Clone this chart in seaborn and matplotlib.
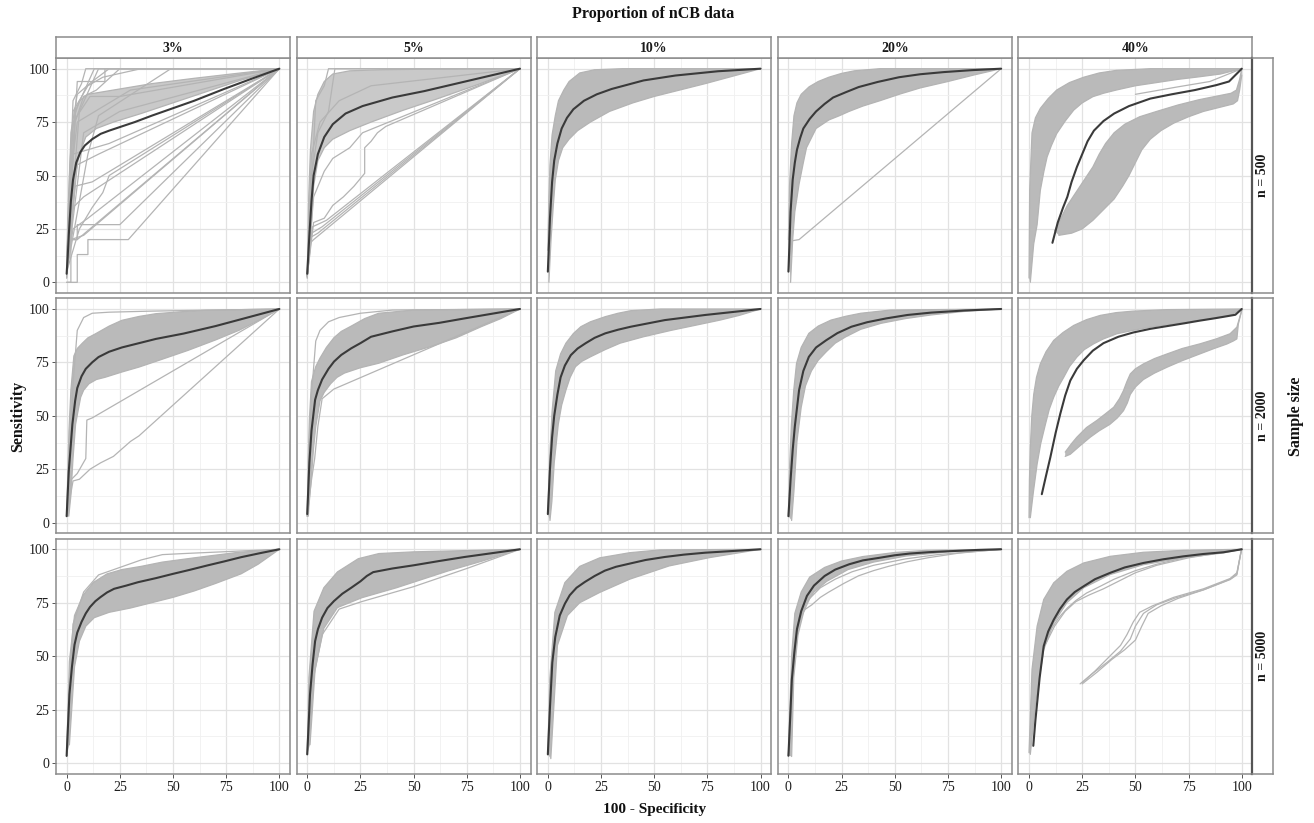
import matplotlib
matplotlib.use("Agg")
import matplotlib.pyplot as plt
import seaborn as sns
import pandas as pd

# ---------------- categories / labels ----------------
PROPORTIONS = ["3%", "5%", "10%", "20%", "40%"]
SAMPLE_SIZES = ["n = 500", "n = 2000", "n = 5000"]
AXIS_TICKS = [0, 25, 50, 75, 100]

# ---------------- n = 500 ----------------
MEAN_500_3 = [(0, 4), (0.5, 12), (1, 22), (2, 38), (3, 48), (4.5, 56), (6.5, 61), (8.5, 64), (12, 67), (16, 69.5),
              (20, 71), (26, 73), (32, 75), (40, 78), (50, 81.5), (60, 85), (74, 90.5), (87, 95.3), (100, 100)]
BAND_500_3_UP = [(0, 2), (0.5, 30), (1.5, 55), (2.5, 70), (4, 79), (6, 85), (10, 88), (16, 89), (25, 90.5), (40, 93),
                 (60, 95.5), (80, 97.8), (100, 100)]
BAND_500_3_LO = [(0, 2), (1, 12), (2, 20), (3, 35), (4, 50), (6, 60), (9, 68), (14, 72), (22, 75), (35, 79), (50, 84),
                 (65, 89), (80, 94), (100, 100)]
RUNS_500_3 = [
    [(0, 0), (5, 0), (5, 13), (10, 13), (10, 20), (29, 20), (100, 100)],
    [(0, 0), (2, 0), (2, 20), (5, 20), (5, 27), (19, 27), (25, 27), (100, 100)],
    [(0, 5), (1, 20), (5, 20), (100, 100)],
    [(0, 5), (2, 20), (8, 22), (100, 100)],
    [(0, 5), (3, 25), (10, 30), (100, 100)],
    [(0, 5), (3, 35), (8, 40), (100, 100)],
    [(0, 5), (4, 45), (12, 47), (100, 100)],
    [(0, 5), (5, 55), (15, 60), (100, 100)],
    [(0, 5), (3, 60), (20, 65), (100, 100)],
    [(0, 10), (5, 94), (18, 94), (18, 100), (100, 100)],
    [(0, 10), (3, 75), (11, 87), (25, 87), (100, 100)],
    [(0, 5), (4, 80), (13, 100), (100, 100)],
    [(0, 5), (6, 80), (15, 100), (100, 100)],
    [(0, 5), (8, 70), (25, 80), (100, 100)],
    [(0, 5), (10, 60), (15, 78), (49, 100), (100, 100)],
    [(0, 5), (2, 50), (5, 75), (30, 90), (100, 100)],
    [(0, 5), (6, 25), (12, 35), (17, 42), (20, 50), (100, 100)],
    [(0, 5), (3, 85), (7, 93), (9, 100), (100, 100)],
    [(0, 5), (2, 70), (5, 88), (12, 94), (20, 100), (100, 100)],
    [(0, 5), (4, 75), (8, 87), (14, 90), (25, 100), (100, 100)],
    [(0, 5), (3, 80), (10, 92), (17, 96), (35, 100), (100, 100)],
]

MEAN_500_5 = [(0, 4), (1, 22), (2, 38), (3, 50), (5, 60), (8, 68), (12, 74), (18, 79), (26, 82.5), (40, 86.5),
              (55, 89.5), (70, 93), (85, 96.5), (100, 100)]
BAND_500_5_UP = [(0, 2), (0.7, 40), (1.5, 62), (3, 80), (5, 88), (8, 94), (12, 97.5), (20, 99), (35, 99.5),
                 (60, 99.8), (100, 100)]
BAND_500_5_LO = [(0, 2), (1.5, 20), (3, 45), (5, 57), (8, 63), (12, 67), (20, 71), (30, 75), (45, 80.5), (60, 85.5),
                 (80, 92.5), (100, 100)]
RUNS_500_5 = [
    [(0, 3), (1, 18), (3, 20), (100, 100)],
    [(0, 3), (1.5, 21), (5, 23), (100, 100)],
    [(0, 3), (2, 23), (7, 26), (100, 100)],
    [(0, 3), (2.5, 26), (9, 29), (100, 100)],
    [(0, 3), (3, 28), (8, 30), (12, 36), (17, 40), (22, 45), (27, 51), (27, 63), (30, 66), (33, 70), (37, 73),
     (100, 100)],
    [(0, 3), (3, 40), (8, 52), (12, 58), (20, 63), (26, 70), (100, 100)],
    [(0, 3), (2, 50), (5, 70), (10, 80), (13, 100), (100, 100)],
    [(0, 3), (4, 85), (8, 92), (10, 100), (100, 100)],
    [(0, 3), (2, 60), (6, 75), (15, 85), (30, 92), (100, 100)],
]

MEAN_500_10 = [(0, 5), (1, 30), (2, 47), (3, 57), (4.5, 65), (6.5, 72), (9, 77), (12, 81), (17, 85), (23, 88),
               (30, 90.5), (45, 94.5), (60, 96.8), (80, 98.8), (100, 100)]
BAND_500_10_UP = [(0, 15), (0.5, 40), (1, 55), (2, 69), (3.5, 78), (5, 85), (7.5, 90), (10, 94), (15, 98), (22, 99.5),
                  (35, 100), (100, 100)]
BAND_500_10_LO = [(0.5, 0), (1.5, 20), (2.5, 35), (3.5, 48), (5, 57), (7, 63), (10, 67), (14, 71), (20, 75), (29, 80),
                  (40, 84), (50, 87), (62, 90), (74, 93), (87, 96.5), (100, 100)]
RUNS_500_10 = []

MEAN_500_20 = [(0, 5), (1, 33), (2, 48), (3, 56), (4, 62), (5.5, 67.5), (7, 72), (10, 76.5), (13, 80), (17, 83.5),
               (21, 86.5), (27, 89), (33, 91.4), (42, 93.8), (52, 96), (62, 97.4), (73, 98.4), (86, 99.3), (100, 100)]
BAND_500_20_UP = [(0, 20), (0.5, 45), (1.5, 65), (2.6, 78), (4, 84), (6, 88), (9.7, 91.5), (14, 94), (19, 96),
                  (25, 97.8), (31, 99), (43, 100), (100, 100)]
BAND_500_20_LO = [(1, 0), (2, 20), (3, 33), (5, 46), (7, 56), (8.5, 63), (11, 68), (13, 72), (16, 74), (19, 76),
                  (24, 78), (28.5, 80), (35, 82.5), (43, 85), (52, 88), (62, 91), (75, 94), (87, 97), (100, 100)]
RUNS_500_20 = [[(0, 5), (1, 17), (2, 19.5), (5, 20), (100, 100)]]

MEAN_500_40 = [(11, 18.5), (13.5, 28), (16, 35), (18, 40), (20, 47), (22.5, 54), (25, 60), (27.5, 66), (30.5, 71),
               (35, 75.5), (40, 79), (47, 82.5), (57, 86), (67, 88), (78, 90), (88, 92.3), (94, 94), (100, 100)]
BAND_500_40_UP = [(0, 2), (0.3, 43), (1.4, 70), (3, 77), (5.3, 81.4), (9, 86), (13, 90), (19, 93.5), (25.7, 96),
                  (33, 98), (41, 99.2), (57, 100), (100, 100)]
BAND_500_40_LO = [(0.6, 0), (2.2, 18), (3.8, 27), (5.3, 43), (7, 52), (8.5, 58.7), (10.5, 64), (13, 69.6), (17, 75.5),
                  (21, 80.6), (25, 84), (30, 86.9), (35, 88.5), (41, 90), (50, 92), (60, 93.5), (70, 95),
                  (80, 96.2), (90, 97.5), (100, 100)]
BAND_500_40B_UP = [(12, 24), (15, 30), (18, 36), (22, 42), (26, 48), (30, 54), (33, 60), (36, 65), (40, 70), (45, 74),
                   (52, 77.5), (60, 80), (70, 83), (80, 85.5), (90, 87.5), (95, 88.5), (97.5, 90), (99, 95),
                   (100, 100)]
BAND_500_40B_LO = [(14, 22), (20, 23), (25, 25), (30, 29), (35, 34), (40, 39), (44, 45), (47, 50), (50, 56), (53, 62),
                   (57, 67), (62, 71), (68, 74.5), (75, 77.5), (82, 80), (90, 82), (96, 83.5), (98, 85), (99, 90),
                   (100, 97)]
RUNS_500_40 = [[(50, 88), (70, 91.5), (85, 94), (100, 100)]]

# ---------------- n = 2000 ----------------
MEAN_2000_3 = [(0, 3), (1, 24), (2.7, 46), (4, 57), (5, 63), (7, 68.5), (9, 72), (12, 75), (15, 77.5), (20, 80),
               (26, 82), (34, 84), (42, 86), (55, 88.5), (70, 92), (85, 96), (100, 100)]
BAND_2000_3_UP = [(0, 3), (1.1, 43), (2, 62), (3.4, 78), (5, 81.5), (7.4, 84), (10, 86.5), (13.6, 88.4), (20, 92),
                  (26, 94.7), (34, 96.5), (42, 97.8), (55, 98.8), (65, 99.4), (100, 100)]
BAND_2000_3_LO = [(1, 3), (1.9, 11.7), (3, 30), (4.2, 46), (5.5, 53), (6.6, 58.7), (8, 62), (10.5, 65), (14, 67),
                  (18, 68), (26, 70.5), (34, 72.8), (45, 76.5), (57, 80.6), (70, 85.5), (81, 90), (90, 94.5),
                  (100, 100)]
RUNS_2000_3 = [
    [(0, 3), (2, 40), (3, 65), (5, 90), (8, 96), (12, 98), (20, 98.5), (40, 99), (100, 100)],
    [(0, 3), (2, 20), (5, 23), (9, 30), (9.5, 48), (12, 49), (100, 100)],
    [(0, 3), (1, 8), (3, 19.5), (6, 20.3), (11, 25), (16, 28), (22, 31), (30, 38), (34, 40.6), (40, 46), (100, 100)],
]

MEAN_2000_5 = [(0, 4), (1, 28), (2, 43), (3.7, 57.5), (5, 62), (7, 67), (10, 72), (12.6, 75.4), (16, 78.5),
               (20.7, 81.6), (25, 84), (30, 87), (40, 89.5), (50, 91.8), (62, 93.5), (74, 95.6), (87, 97.8),
               (100, 100)]
BAND_2000_5_UP = [(0, 3), (0.5, 31), (1, 48), (2, 66), (4, 73), (6, 77), (9, 82), (12.6, 86.6), (16, 89.5),
                  (20.7, 92), (27, 95.5), (33.6, 98), (50, 99.5), (100, 100)]
BAND_2000_5_LO = [(0.5, 3), (0.8, 7.8), (2, 22), (2.9, 34), (4, 45), (6, 57), (8, 61), (11, 65), (14, 68),
                  (17.5, 70), (25, 72.5), (33.6, 74.6), (45, 78.5), (58, 82.4), (70, 86.5), (82, 91.8), (91, 95.5),
                  (100, 100)]
RUNS_2000_5 = [
    [(0, 3), (2, 20), (3.5, 30), (5, 45), (7, 58), (12.5, 62.5), (100, 100)],
    [(0, 3), (2, 60), (4, 85), (6, 90), (10, 94), (15, 96), (25, 98), (40, 99.5), (100, 100)],
]

MEAN_2000_10 = [(0, 4), (1, 25), (2, 40), (3, 50), (4.5, 60), (6, 68), (8, 73.5), (10.8, 78.4), (14, 81.5),
                (17.8, 84), (22, 86.5), (27, 88.6), (33, 90.3), (39, 91.7), (55, 94.8), (74, 97.2), (88, 98.7),
                (100, 100)]
BAND_2000_10_UP = [(0, 4), (0.9, 31), (2, 52), (3.7, 71), (6, 79), (8.5, 84), (12, 88.5), (15.5, 91.7), (20, 94),
                   (27, 96.4), (33, 98), (39, 99.2), (53, 100), (100, 100)]
BAND_2000_10_LO = [(1, 1), (1.9, 10), (3, 28), (4.9, 46), (6.5, 55), (8.5, 62), (10.5, 68), (13, 73), (16, 75.5),
                   (20, 77.6), (27, 81), (34, 84), (45, 87), (58, 90), (70, 92.5), (81, 94.8), (90, 97), (100, 100)]
RUNS_2000_10 = []

MEAN_2000_20 = [(0, 3), (1, 20), (2, 34), (3, 45), (5, 62), (7, 71), (9.6, 77.6), (13, 82), (17.8, 85.4),
                (23, 88.7), (29.6, 91.7), (37, 93.8), (46, 95.6), (56, 97.2), (67, 98.3), (83, 99.3), (100, 100)]
BAND_2000_20_UP = [(0, 3), (0.5, 25), (1.4, 46), (2.5, 62), (3.8, 74.5), (6, 82), (9.6, 88.6), (14, 92), (20, 94.8),
                   (27, 96.6), (34, 98), (48, 99.5), (100, 100)]
BAND_2000_20_LO = [(1.5, 1), (2.6, 15), (4, 38), (6, 54), (8, 64), (10.8, 71), (14, 76), (17.8, 80), (22, 84),
                   (27, 87), (34, 90.5), (43.6, 93.3), (55, 95.5), (67, 97.2), (82, 98.8), (100, 100)]
RUNS_2000_20 = []

MEAN_2000_40 = [(6, 13.3), (8, 22), (10, 30.5), (12.5, 42), (14.7, 51), (17, 59.5), (19.4, 66.5), (22.5, 72),
                (25.7, 76), (30, 80.5), (35, 84), (42, 87), (49, 89), (57, 90.7), (65, 92), (73, 93.3), (80, 94.5),
                (87, 95.6), (93, 96.6), (97, 97.3), (100, 100)]
BAND_2000_40_UP = [(0, 2.3), (0.2, 20), (0.6, 35), (1.3, 50), (2.2, 60), (3.5, 68), (5.3, 74.3), (8, 80),
                   (11.6, 85.3), (16, 89), (21, 92.3), (27, 95), (33.5, 97), (41, 98.3), (49, 99), (65, 99.7),
                   (100, 100)]
BAND_2000_40_LO = [(0.6, 2.3), (2, 14), (3.8, 27.4), (5.5, 37), (7.7, 46), (9.5, 53), (11.6, 58.7), (14, 64),
                   (16.3, 68), (19, 73), (22.5, 77.5), (26, 81), (30.4, 83.7), (35, 86), (41.3, 88.4), (49, 90),
                   (57, 91.5), (68, 93), (80.4, 94.7), (88, 95.8), (94.5, 97), (100, 100)]
BAND_2000_40B_UP = [(17, 33), (20, 37), (22.5, 40), (27, 44.5), (32, 47.9), (36, 51), (39.8, 54), (42.5, 58),
                    (44.4, 61.8), (46, 66), (47.6, 69.6), (50, 72), (53.8, 74.3), (59, 76.8), (65, 79), (72, 81.5),
                    (80.4, 83.7), (88, 86), (94.5, 88.4), (97.7, 91.5), (100, 99.4)]
BAND_2000_40B_LO = [(17, 31), (19.4, 32), (24, 36), (28.8, 40), (33, 43), (38, 46), (41.5, 49), (44.4, 52.4),
                    (46.2, 56), (47.6, 60), (50, 63.5), (53.8, 67), (59, 70), (65, 72.8), (72, 75.8), (80.4, 79),
                    (87, 81.5), (93, 83.6), (96, 85), (97.7, 86), (98.4, 93), (100, 99.4)]
RUNS_2000_40 = []

# ---------------- n = 5000 ----------------
MEAN_5000_3 = [(0, 3.3), (1.3, 32), (2.5, 45), (3.7, 55.3), (5, 61), (7, 66), (9, 70), (11, 73), (13.5, 75.7),
               (15.9, 77.6), (19, 79.8), (22.3, 81.5), (28, 83), (33.6, 84.6), (42, 86.5), (50, 88.5), (58, 90.4),
               (66, 92.4), (74, 94.3), (82, 96.3), (91, 98.2), (100, 100)]
BAND_5000_3_UP = [(0, 3.3), (1.3, 47.5), (3.7, 69), (7.8, 78.6), (12.6, 84.5), (19, 88.5), (26, 90.5), (35, 92),
                  (45, 94), (60, 96), (80, 98.5), (100, 100)]
BAND_5000_3_LO = [(1.3, 8.5), (3.7, 45), (6, 57), (9, 64), (13, 68), (20, 70.5), (30, 72.5), (40, 75), (50, 77.5),
                  (60, 80.5), (70, 84), (82, 88.5), (90, 93), (100, 100)]
RUNS_5000_3 = [[(0, 3), (3, 65), (8, 80), (15, 88), (25, 91.5), (35, 95), (45, 97.5), (55, 98), (100, 100)]]

MEAN_5000_5 = [(0, 4), (1.3, 32), (2.5, 46), (3.7, 57), (5, 62.5), (7, 68), (9.5, 72.5), (12.6, 75.8), (16.5, 79.2),
               (20.7, 82), (25, 85), (28, 87.5), (31, 89.3), (40, 91), (50, 92.5), (62, 94.5), (74, 96.4),
               (87, 98.2), (100, 100)]
BAND_5000_5_UP = [(0, 4), (0.8, 40), (3.2, 71), (7.8, 82), (14.2, 89.4), (24, 95.6), (33.7, 98), (50, 98.8),
                  (100, 100)]
BAND_5000_5_LO = [(1.3, 8.5), (3.7, 44), (7.8, 63), (14.2, 72.7), (25.6, 77.3), (42, 82), (66, 89.8), (82, 94.4),
                  (100, 100)]
RUNS_5000_5 = [[(0, 4), (3, 40), (7, 60), (15, 72), (25.6, 75.5), (50, 82.5), (75, 91), (100, 100)]]

MEAN_5000_10 = [(0, 4), (1, 26), (2.1, 47), (3.5, 59), (5.6, 69), (8, 74.5), (10.3, 78.5), (13.5, 82), (17.4, 84.7),
                (22, 87.5), (26.8, 90), (32, 91.8), (38.5, 93.3), (46, 95), (55, 96.4), (64, 97.5), (74, 98.4),
                (87, 99.2), (100, 100)]
BAND_5000_10_UP = [(0, 4), (0.9, 39), (3.3, 70.5), (8, 84.4), (15, 92), (24.4, 96), (38.5, 98.4), (52.6, 99.7),
                   (100, 100)]
BAND_5000_10_LO = [(1.4, 2), (4.5, 55), (9.2, 69), (15, 75), (24.4, 79.8), (38.5, 86), (57, 92.2), (76, 96.1),
                   (100, 100)]
RUNS_5000_10 = []

MEAN_5000_20 = [(0, 3.4), (1, 25), (1.6, 39), (2.8, 52), (4, 62.6), (6, 71), (8.7, 78.2), (12, 83), (17, 87.5),
                (22, 90.5), (28.6, 93), (35, 94.8), (42.7, 96), (50, 97.2), (57, 98), (67, 98.7), (78, 99.2),
                (89, 99.7), (100, 100)]
BAND_5000_20_UP = [(0, 3.4), (0.5, 20), (1.5, 50), (3, 70), (6, 80), (10, 87), (17, 91.5), (25, 94.5), (35, 96.6),
                   (50, 98.5), (65, 99.5), (100, 100)]
BAND_5000_20_LO = [(1.5, 3), (2.5, 40), (4.5, 60), (8, 74), (12, 80), (18, 85), (28, 90.5), (40, 94), (55, 96.8),
                   (75, 98.8), (100, 100)]
RUNS_5000_20 = [
    [(0, 3), (2, 40), (5, 68), (8, 72), (11, 74), (15, 77.5), (19, 80), (26, 84), (33, 87.6), (40, 90), (47, 92),
     (56, 94.2), (66, 96.1), (80, 98.2), (100, 100)],
    [(0, 3), (2, 42), (5, 66), (10, 77), (15, 82), (22, 86), (30, 89.5), (40, 92.5), (55, 95.5), (70, 97.5),
     (100, 100)],
]

MEAN_5000_40 = [(2, 8), (3, 20), (3.8, 28), (5, 40), (6.9, 54.7), (9, 61.5), (11.6, 67), (14.5, 72), (17.8, 76.5),
                (21.5, 80), (25.7, 82.7), (31, 86), (38.2, 89), (45, 91.5), (53.8, 93.6), (63, 95.3), (72.6, 96.7),
                (82, 97.8), (91.4, 98.6), (100, 100)]
BAND_5000_40_UP = [(0, 4.8), (1.4, 43.8), (3.8, 64), (6.9, 76.5), (11.6, 84.3), (17.8, 89.7), (25.7, 93.6),
                   (38.2, 96.7), (53.8, 98.6), (72.6, 99.5), (100, 100)]
BAND_5000_40_LO = [(0.6, 4), (3, 28), (6.9, 53), (11.6, 65.6), (17.8, 75), (25.7, 82), (38.2, 88.2), (53.8, 92.8),
                   (72.6, 96), (91.4, 98.3), (100, 100)]
RUNS_5000_40 = [
    [(6, 52), (10, 62), (14, 68), (18, 72.5), (22, 76), (27, 79.5), (33.5, 82.7), (40, 86), (50, 90), (60, 93),
     (75, 96.5), (100, 100)],
    [(8, 56), (12, 64), (17, 71), (22, 75.5), (28, 78.5), (35, 81.5), (42, 85), (50, 89), (60, 92.5), (75, 96),
     (100, 100)],
    [(24, 37), (30, 42), (36.6, 47), (43, 52.3), (47.6, 58), (50, 64), (53.8, 70), (60, 74), (69, 77.3), (82, 81),
     (94.5, 85.8), (97.7, 88), (99.5, 98), (100, 100)],
    [(25, 37), (32, 42.5), (39, 48.5), (45, 53), (50, 57.5), (53, 64), (56, 70), (62, 73.5), (70, 77), (82, 81),
     (94.5, 86), (97.7, 88.5), (99.5, 98), (100, 100)],
    [(25, 37.5), (31, 43), (37, 49), (43, 55), (46, 60), (49, 66), (52, 70.5), (58, 73.5), (68, 77.5), (82, 81.5),
     (94.5, 86.3), (97.7, 89), (99.5, 98), (100, 100)],
]

# ---------------- lookup tables built from the arrays above ----------------
MEANS = {
    (0, 0): MEAN_500_3, (0, 1): MEAN_500_5, (0, 2): MEAN_500_10, (0, 3): MEAN_500_20, (0, 4): MEAN_500_40,
    (1, 0): MEAN_2000_3, (1, 1): MEAN_2000_5, (1, 2): MEAN_2000_10, (1, 3): MEAN_2000_20, (1, 4): MEAN_2000_40,
    (2, 0): MEAN_5000_3, (2, 1): MEAN_5000_5, (2, 2): MEAN_5000_10, (2, 3): MEAN_5000_20, (2, 4): MEAN_5000_40,
}
BANDS = {
    (0, 0): [(BAND_500_3_UP, BAND_500_3_LO)],
    (0, 1): [(BAND_500_5_UP, BAND_500_5_LO)],
    (0, 2): [(BAND_500_10_UP, BAND_500_10_LO)],
    (0, 3): [(BAND_500_20_UP, BAND_500_20_LO)],
    (0, 4): [(BAND_500_40_UP, BAND_500_40_LO), (BAND_500_40B_UP, BAND_500_40B_LO)],
    (1, 0): [(BAND_2000_3_UP, BAND_2000_3_LO)],
    (1, 1): [(BAND_2000_5_UP, BAND_2000_5_LO)],
    (1, 2): [(BAND_2000_10_UP, BAND_2000_10_LO)],
    (1, 3): [(BAND_2000_20_UP, BAND_2000_20_LO)],
    (1, 4): [(BAND_2000_40_UP, BAND_2000_40_LO), (BAND_2000_40B_UP, BAND_2000_40B_LO)],
    (2, 0): [(BAND_5000_3_UP, BAND_5000_3_LO)],
    (2, 1): [(BAND_5000_5_UP, BAND_5000_5_LO)],
    (2, 2): [(BAND_5000_10_UP, BAND_5000_10_LO)],
    (2, 3): [(BAND_5000_20_UP, BAND_5000_20_LO)],
    (2, 4): [(BAND_5000_40_UP, BAND_5000_40_LO)],
}
RUNS = {
    (0, 0): RUNS_500_3, (0, 1): RUNS_500_5, (0, 2): RUNS_500_10, (0, 3): RUNS_500_20, (0, 4): RUNS_500_40,
    (1, 0): RUNS_2000_3, (1, 1): RUNS_2000_5, (1, 2): RUNS_2000_10, (1, 3): RUNS_2000_20, (1, 4): RUNS_2000_40,
    (2, 0): RUNS_5000_3, (2, 1): RUNS_5000_5, (2, 2): RUNS_5000_10, (2, 3): RUNS_5000_20, (2, 4): RUNS_5000_40,
}

# ---------------- style ----------------
sns.set_theme(style="white")
plt.rcParams["font.family"] = ["Liberation Serif", "DejaVu Serif"]

GRAY = "#b4b4b4"
FILL = "#bababa"
SPARSE_FILL = "#c9c9c9"
SPARSE_PANELS = [(0, 0), (0, 1)]
DARK = "#3a3a3a"
FRAME = "#8c8c8c"
GRID_MAJOR = "#e2e2e2"
GRID_MINOR = "#f0f0f0"

W, H = 1314, 823
fig = plt.figure(figsize=(W / 100, H / 100), dpi=100)
fig.patch.set_facecolor("white")

COL_LEFT = [56, 296.6, 537.2, 777.8, 1018.4]
ROW_TOP = [58, 298.3, 538.6]
PW, PH = 234, 235
STRIP_H = 21
STRIP_W = 20.5


def fig_rect(left, top, width, height):
    return [left / W, 1 - (top + height) / H, width / W, height / H]


def to_df(curves):
    rows = []
    for cid, pts in enumerate(curves):
        for order, (x, y) in enumerate(pts):
            rows.append((cid, order, x, y))
    return pd.DataFrame(rows, columns=["run", "order", "x", "y"])


for r in range(3):
    for c in range(5):
        ax = fig.add_axes(fig_rect(COL_LEFT[c], ROW_TOP[r], PW, PH))
        ax.set_facecolor("white")
        key = (r, c)
        edges = []
        fill_col = SPARSE_FILL if key in SPARSE_PANELS else FILL
        for up, lo in BANDS[key]:
            xs = [p[0] for p in up] + [p[0] for p in lo[::-1]]
            ys = [p[1] for p in up] + [p[1] for p in lo[::-1]]
            ax.fill(xs, ys, color=fill_col, lw=0, zorder=2)
            edges.extend([up, lo])
        gray_df = to_df(edges + RUNS[key])
        sns.lineplot(data=gray_df, x="x", y="y", units="run", estimator=None, sort=False,
                     color=GRAY, lw=0.9, ax=ax, legend=False, zorder=3)
        mean_df = to_df([MEANS[key]])
        sns.lineplot(data=mean_df, x="x", y="y", estimator=None, sort=False,
                     color=DARK, lw=1.5, ax=ax, legend=False, zorder=4)

        ax.set_xlim(-5, 105)
        ax.set_ylim(-5, 105)
        ax.set_xticks(AXIS_TICKS)
        ax.set_yticks(AXIS_TICKS)
        ax.set_xticks([12.5, 37.5, 62.5, 87.5], minor=True)
        ax.set_yticks([12.5, 37.5, 62.5, 87.5], minor=True)
        ax.grid(True, which="major", color=GRID_MAJOR, lw=0.9, zorder=0)
        ax.grid(True, which="minor", color=GRID_MINOR, lw=0.6, zorder=0)
        ax.set_axisbelow(True)
        ax.set_xlabel("")
        ax.set_ylabel("")
        for sp in ax.spines.values():
            sp.set_color(FRAME)
            sp.set_linewidth(1.1)
        ax.tick_params(axis="both", which="minor", length=0)
        ax.tick_params(axis="x", which="major", length=3, width=0.7, color="#555555",
                       labelsize=10, labelcolor="#1e1e1e", pad=2,
                       bottom=(r == 2), labelbottom=(r == 2))
        ax.tick_params(axis="y", which="major", length=3, width=0.7, color="#555555",
                       labelsize=10, labelcolor="#1e1e1e", pad=2,
                       left=(c == 0), labelleft=(c == 0))

        # top strips
        if r == 0:
            sax = fig.add_axes(fig_rect(COL_LEFT[c], ROW_TOP[0] - STRIP_H, PW, STRIP_H))
            sax.set_xticks([])
            sax.set_yticks([])
            sax.set_facecolor("white")
            for sp in sax.spines.values():
                sp.set_color(FRAME)
                sp.set_linewidth(1.1)
            sax.text(0.5, 0.45, PROPORTIONS[c], ha="center", va="center", fontsize=10,
                     fontweight="bold", color="#1a1a1a", transform=sax.transAxes)

    # right strips
    rax = fig.add_axes(fig_rect(COL_LEFT[4] + PW, ROW_TOP[r], STRIP_W, PH))
    rax.set_xticks([])
    rax.set_yticks([])
    rax.set_facecolor("white")
    for sp in rax.spines.values():
        sp.set_color(FRAME)
        sp.set_linewidth(1.1)
    rax.spines["left"].set_color("#555555")
    rax.spines["left"].set_linewidth(1.6)
    rax.text(0.5, 0.5, SAMPLE_SIZES[r], ha="center", va="center", rotation=90, fontsize=10,
             fontweight="bold", color="#1a1a1a", transform=rax.transAxes)

fig.text(653 / W, 1 - 14 / H, "Proportion of nCB data", ha="center", va="center", fontsize=11.5,
         fontweight="bold", color="#111111")
fig.text(655 / W, 1 - 810 / H, "100 - Specificity", ha="center", va="center", fontsize=11,
         fontweight="bold", color="#111111")
fig.text(18 / W, 1 - 416 / H, "Sensitivity", ha="center", va="center", rotation=90, fontsize=11.5,
         fontweight="bold", color="#111111")
fig.text(1296 / W, 1 - 416 / H, "Sample size", ha="center", va="center", rotation=90, fontsize=11.5,
         fontweight="bold", color="#111111")

fig.savefig("out.png", dpi=100, facecolor="white")
